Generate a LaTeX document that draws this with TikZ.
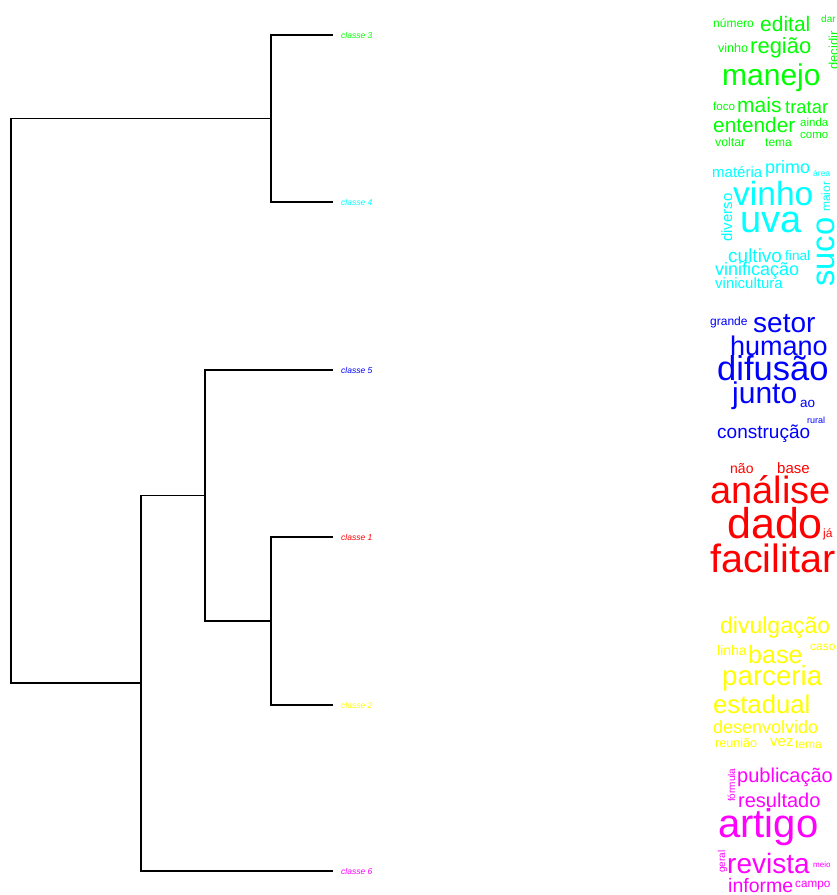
\documentclass[tikz,border=0pt]{standalone}
\usepackage{fontspec}
\setmainfont{Liberation Sans}
\definecolor{cgreen}{RGB}{0,255,0}
\definecolor{ccyan}{RGB}{0,255,255}
\definecolor{cblue}{RGB}{0,0,255}
\definecolor{cred}{RGB}{255,0,0}
\definecolor{cyel}{RGB}{255,255,0}
\definecolor{cmag}{RGB}{255,0,255}
\tikzset{
  branch/.style={line width=1.4pt, line cap=rect},
  leaflabel/.style={anchor=base west, inner sep=0pt, font=\fontsize{8.5}{8.5}\selectfont\itshape},
  cloudword/.style={anchor=base west, inner sep=0pt, font=\fontsize{#1}{#1}\selectfont},
}
% word cloud entry: x, y (baseline start), size, text
\newcommand\cword[4]{\node[cloudword=#3] at (#1,#2) {#4};}
\newcommand\vword[4]{\node[cloudword=#3, rotate=90] at (#1,#2) {#4};}
\begin{document}
\begin{tikzpicture}[x=1pt,y=-1pt]
\useasboundingbox (0,0) rectangle (837,895);
\fill[white] (0,0) rectangle (837,895);

% leaves of the dendrogram
\coordinate (L3) at (332,35);
\coordinate (L4) at (332,202);
\coordinate (L5) at (332,370);
\coordinate (L1) at (332,537);
\coordinate (L2) at (332,705);
\coordinate (L6) at (332,871);
% internal merges
\coordinate (N34) at (271,118.5);
\coordinate (N12) at (271,621);
\coordinate (N512) at (205,495.5);
\coordinate (N5126) at (141,683);
\coordinate (R) at (11,400);

\draw[branch] (L3) -- (L3 -| N34) -- (L4 -| N34) -- (L4);
\draw[branch] (L1) -- (L1 -| N12) -- (L2 -| N12) -- (L2);
\draw[branch] (L5) -- (L5 -| N512) -- (N12 -| N512) -- (N12);
\draw[branch] (N512) -- (N512 -| N5126) -- (L6 -| N5126) -- (L6);
\draw[branch] (N34) -- (N34 -| R) -- (N5126 -| R) -- (N5126);

\node[leaflabel, text=cgreen] (t3) at (341,38) {classe 3};
\node[leaflabel, text=ccyan] (t4) at (341,205) {classe 4};
\node[leaflabel, text=cblue] (t5) at (341,373) {classe 5};
\node[leaflabel, text=cred] (t1) at (341,540) {classe 1};
\node[leaflabel, text=cyel] (t2) at (341,708) {classe 2};
\node[leaflabel, text=cmag] (t6) at (341,874) {classe 6};

% cluster 3
\begin{scope}[text=cgreen]
\cword{713}{27}{12}{número}
\cword{760}{31}{21}{edital}
\cword{821}{22}{10}{dar}
\vword{838}{70}{13}{decidir}
\cword{718}{52}{12.5}{vinho}
\cword{750}{53}{22}{região}
\cword{722}{85}{30}{manejo}
\cword{713}{110}{11.6}{foco}
\cword{737}{112}{21}{mais}
\cword{785}{113}{18.4}{tratar}
\cword{713}{132}{20.8}{entender}
\cword{800}{126}{11.5}{ainda}
\cword{800}{138}{11.5}{como}
\cword{715}{146}{12.3}{voltar}
\cword{765}{146}{12}{tema}
\end{scope}

% cluster 4
\begin{scope}[text=ccyan]
\cword{712}{177}{15}{matéria}
\cword{765}{173}{18}{primo}
\cword{813}{176}{8.5}{área}
\cword{733}{205}{33.5}{vinho}
\cword{740}{232}{38}{uva}
\vword{732}{242}{15}{diverso}
\vword{830}{212}{12}{maior}
\vword{834}{287}{32.7}{suco}
\cword{728}{262}{19}{cultivo}
\cword{785}{260}{13.6}{final}
\cword{715}{275}{18}{vinificação}
\cword{715}{288}{15}{vinicultura}
\end{scope}

% cluster 5
\begin{scope}[text=cblue]
\cword{710}{325}{12}{grande}
\cword{753}{332}{28}{setor}
\cword{730}{355}{27}{humano}
\cword{717}{380}{34.5}{difusão}
\cword{732}{403}{30}{junto}
\cword{800}{407}{13.5}{ao}
\cword{807}{423}{9}{rural}
\cword{717}{438}{19}{construção}
\end{scope}

% cluster 1
\begin{scope}[text=cred]
\cword{730}{473}{14}{não}
\cword{777}{473}{15}{base}
\cword{710}{503}{38}{análise}
\cword{727}{538}{43}{dado}
\cword{823}{537}{12}{já}
\cword{710}{572}{39.5}{facilitar}
\end{scope}

% cluster 2
\begin{scope}[text=cyel]
\cword{720}{633}{23}{divulgação}
\cword{717}{655}{14}{linha}
\cword{748}{663}{25}{base}
\cword{810}{650}{12}{caso}
\cword{722}{685}{27.7}{parceria}
\cword{713}{713}{25.7}{estadual}
\cword{713}{733}{18}{desenvolvido}
\cword{715}{747}{12.6}{reunião}
\cword{770}{746}{15}{vez}
\cword{795}{748}{12}{tema}
\end{scope}

% cluster 6
\begin{scope}[text=cmag]
\vword{735}{802}{10}{fórmula}
\cword{737}{782}{20}{publicação}
\cword{738}{807}{20}{resultado}
\cword{718}{837}{40}{artigo}
\vword{725}{873}{10}{geral}
\cword{727}{873}{28}{revista}
\cword{813}{867}{8}{meio}
\cword{728}{892}{19.5}{informe}
\cword{795}{887}{11.7}{campo}
\end{scope}
\end{tikzpicture}
\end{document}
